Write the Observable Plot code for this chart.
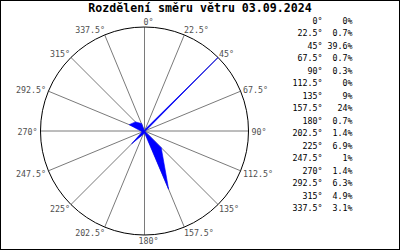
<!DOCTYPE html>
<html>
<head>
<meta charset="utf-8">
<script src="https://cdn.jsdelivr.net/npm/d3@7"></script>
<script src="https://cdn.jsdelivr.net/npm/@observablehq/plot@0.6"></script>
<style>
  html, body { margin: 0; padding: 0; background: #fff; }
  #page { position: relative; width: 400px; height: 250px; overflow: hidden; font-family: "DejaVu Sans Mono", monospace; }
  #frame { position: absolute; left: 0; top: 0; width: 400px; height: 250px; box-sizing: border-box; border: 1px solid #000; pointer-events: none; }
  #title { position: absolute; left: 0; top: 1px; width: 400px; text-align: center; font-weight: bold; font-size: 11.6px; line-height: 14px; color: #000; }
  #chart { position: absolute; left: 0; top: 0; }
  #table { position: absolute; left: 280px; top: 0; }
  .row { position: absolute; height: 10px; line-height: 10px; font-size: 8.3px; color: #000; white-space: pre; }
  .deg { position: absolute; right: 0; }
</style>
</head>
<body>
<div id="page">
  <div id="chart"></div>
  <div id="title"></div>
  <div id="table"></div>
  <div id="frame"></div>
</div>
<script>
const titleText = "Rozdělení směru větru 03.09.2024";
const directions = [0, 22.5, 45, 67.5, 90, 112.5, 135, 157.5, 180, 202.5, 225, 247.5, 270, 292.5, 315, 337.5];
const directionLabels = ["0°", "22.5°", "45°", "67.5°", "90°", "112.5°", "135°", "157.5°", "180°", "202.5°", "225°", "247.5°", "270°", "292.5°", "315°", "337.5°"];
const values = [0, 0.7, 39.6, 0.7, 0.3, 0, 9, 24, 0.7, 1.4, 6.9, 1, 1.4, 6.3, 4.9, 3.1];
const valueLabels = ["0%", "0.7%", "39.6%", "0.7%", "0.3%", "0%", "9%", "24%", "0.7%", "1.4%", "6.9%", "1%", "1.4%", "6.3%", "4.9%", "3.1%"];

document.getElementById("title").textContent = titleText;

const R = 104; // circle radius in px (= half of x range)
const maxV = d3.max(values);
const rows = directions.map((deg, i) => {
  const a = deg * Math.PI / 180;
  const r = values[i] / maxV;
  return {deg, label: directionLabels[i], value: values[i], a, sin: Math.sin(a), cos: Math.cos(a), px: r * Math.sin(a), py: r * Math.cos(a)};
});

// label placement rule (in px, converted to data units)
const lab = rows.map(d => {
  const s2 = d.sin * d.sin;
  const dxp = 4 * s2 - 1;
  const dyp = -5.5 * d.cos + 1;
  const side = d.deg === 0 || d.deg === 180 ? "mid" : (d.deg < 180 ? "right" : "left");
  let lx = d.sin, ly = d.cos;
  if (side === "right") lx += dxp / R;
  else if (side === "left") lx -= dxp / R;
  else lx += 4 / R;
  ly -= dyp / R;
  return {...d, lx, ly, side};
});

const labelStyle = {fontFamily: "DejaVu Sans Mono, monospace", fontSize: 8.3, fill: "#505050"};

const plot = Plot.plot({
  width: 400,
  height: 250,
  margin: 0,
  x: {type: "linear", domain: [-1, 1], range: [40, 248], axis: null},
  y: {type: "linear", domain: [-1, 1], range: [234.5, 26.5], axis: null},
  style: {background: "transparent", overflow: "visible"},
  marks: [
    Plot.link(rows, {x1: 0, y1: 0, x2: "sin", y2: "cos", stroke: "#7a7a7a", strokeWidth: 1}),
    Plot.dot([0], {x: 0, y: 0, r: R, stroke: "#000", fill: "none", strokeWidth: 1}),
    Plot.line(rows, {x: "px", y: "py", curve: "linear-closed", fill: "#0000ff", stroke: "#0000ff", strokeWidth: 0.6}),
    Plot.text(lab.filter(d => d.side === "right"), {x: "lx", y: "ly", text: "label", textAnchor: "start", ...labelStyle}),
    Plot.text(lab.filter(d => d.side === "left"), {x: "lx", y: "ly", text: "label", textAnchor: "end", ...labelStyle}),
    Plot.text(lab.filter(d => d.side === "mid"), {x: "lx", y: "ly", text: "label", textAnchor: "middle", ...labelStyle})
  ]
});
document.getElementById("chart").appendChild(plot);

// table
const table = document.getElementById("table");
const rowStep = 12.47, firstRow = 21;
directions.forEach((deg, i) => {
  const y = firstRow + i * rowStep - 5;
  const a = document.createElement("div");
  a.className = "row";
  a.style.top = y + "px";
  a.style.left = "0px";
  a.style.width = "42.5px";
  a.style.textAlign = "right";
  a.textContent = directionLabels[i];
  const b = document.createElement("div");
  b.className = "row";
  b.style.top = y + "px";
  b.style.left = "0px";
  b.style.width = "72.5px";
  b.style.textAlign = "right";
  b.textContent = valueLabels[i];
  table.appendChild(a);
  table.appendChild(b);
});
</script>
</body>
</html>
